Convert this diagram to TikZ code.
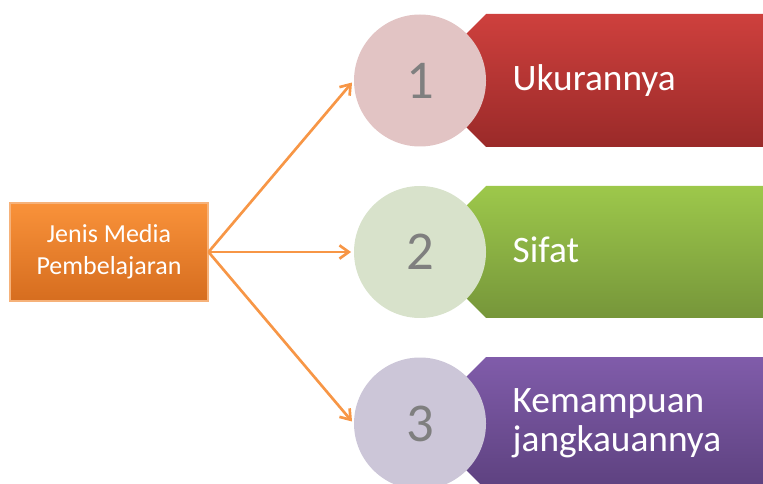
\documentclass[tikz,border=0pt]{standalone}
\usepackage{fontspec}
\setmainfont{Carlito}
\usetikzlibrary{arrows.meta}
\definecolor{arrcol}{HTML}{F79646}
\definecolor{boxtop}{HTML}{F9923A}
\definecolor{boxbot}{HTML}{D66D1F}
\definecolor{boxline}{HTML}{F6B27A}
\definecolor{redtop}{HTML}{CE403D}
\definecolor{redbot}{HTML}{9A2A29}
\definecolor{greentop}{HTML}{9DC84B}
\definecolor{greenbot}{HTML}{76963A}
\definecolor{purptop}{HTML}{805CAA}
\definecolor{purpbot}{HTML}{5D417F}
\definecolor{circA}{HTML}{E2C4C4}
\definecolor{circB}{HTML}{D8E2CB}
\definecolor{circC}{HTML}{CCC6D8}
\definecolor{numgray}{HTML}{7F7F7F}
\tikzset{
  numcirc/.style={circle, minimum size=99pt, inner sep=0pt, text=numgray,
    font=\fontsize{41}{41}\selectfont},
  bantext/.style={anchor=west, text=white, align=left,
    font=\fontsize{28}{29.5}\selectfont},
  arr/.style={draw=arrcol, line width=2pt, -{Straight Barb[length=7pt,width=10pt,line width=2pt]}, shorten >=2pt},
  srcbox/.style={rectangle, minimum width=148.5pt, minimum height=73.5pt, inner sep=0pt,
    top color=boxtop, bottom color=boxbot, draw=boxline, line width=0.8pt, text=white,
    align=center, font=\fontsize{19.5}{24}\selectfont}
}
\begin{document}
\begin{tikzpicture}[x=0.75pt,y=-0.75pt]
\useasboundingbox (0,0) rectangle (763,484);
% banners
\shade[top color=redtop,bottom color=redbot] (486,14) -- (763,14) -- (763,147) -- (486,147) -- (420,80.5) -- cycle;
\shade[top color=greentop,bottom color=greenbot] (486,186) -- (763,186) -- (763,318) -- (486,318) -- (420,252) -- cycle;
\shade[top color=purptop,bottom color=purpbot] (486,357) -- (763,357) -- (763,490) -- (486,490) -- (420,423.5) -- cycle;
% circles
\node[numcirc, fill=circA] (c1) at (420,80.5) {1};
\node[numcirc, fill=circB] (c2) at (420,252) {2};
\node[numcirc, fill=circC] (c3) at (420,423.5) {3};
% banner texts
\node[bantext] (t1) at (508,80.5) {Ukurannya};
\node[bantext] (t2) at (508,250) {Sifat};
\node[bantext] (t3) at (508,423) {Kemampuan\\jangkauannya};
% source box
\node[srcbox] (src) at (109,252) {Jenis Media\\Pembelajaran};
% arrows
\draw[arr] (src.east) -- (c1.west);
\draw[arr] (src.east) -- (c2.west);
\draw[arr] (src.east) -- (c3.west);
\end{tikzpicture}
\end{document}
